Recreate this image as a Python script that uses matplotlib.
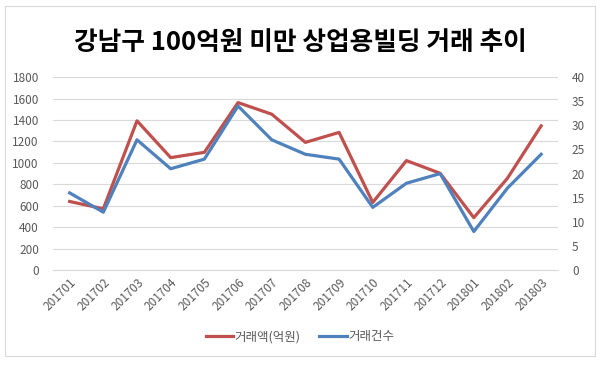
import matplotlib.pyplot as plt
from matplotlib.patches import Rectangle

plt.rcParams['font.family'] = ['Noto Sans CJK KR', 'DejaVu Sans']

months = ["201701", "201702", "201703", "201704", "201705", "201706", "201707",
          "201708", "201709", "201710", "201711", "201712", "201801", "201802",
          "201803"]
amount = [640, 572, 1392, 1049, 1098, 1562, 1454, 1191, 1284, 631, 1021, 903,
          489, 857, 1345]
count = [16, 12, 27, 21, 23, 34, 27, 24, 23, 13, 18, 20, 8, 17, 24]

red = "#C0504D"
blue = "#4F81BD"
tick_color = "#595959"

fig = plt.figure(figsize=(6, 3.67), dpi=100)
fig.patches.append(Rectangle((0.008, 0.03), 0.984, 0.955, transform=fig.transFigure,
                             fill=False, edgecolor="#D9D9D9", linewidth=0.8))
ax = fig.add_axes([0.088, 0.264, 0.842, 0.526])
ax2 = ax.twinx()

x = range(len(months))
l1, = ax.plot(x, amount, color=red, linewidth=2.3, label="거래액(억원)")
l2, = ax2.plot(x, count, color=blue, linewidth=2.3, label="거래건수")

ax.set_xlim(-0.5, len(months) - 0.5)
ax.set_ylim(0, 1800)
ax.set_yticks(range(0, 1801, 200))
ax2.set_ylim(0, 40)
ax2.set_yticks(range(0, 41, 5))
ax.set_xticks(list(x))
ax.set_xticklabels(months, rotation=45, ha="right", rotation_mode="anchor")

ax.grid(axis="y", color="#D9D9D9", linewidth=0.8)
ax.set_axisbelow(True)
for a in (ax, ax2):
    for s in a.spines.values():
        s.set_visible(False)
    a.tick_params(length=0, labelsize=8.5, colors=tick_color)
ax.spines["bottom"].set_visible(True)
ax.spines["bottom"].set_color("#D9D9D9")
ax.tick_params(axis="y", pad=10)
ax2.tick_params(axis="y", pad=10)
ax.tick_params(axis="x", pad=4)

fig.text(0.5, 0.885, "강남구 100억원 미만 상업용빌딩 거래 추이", ha="center", va="center",
         fontsize=18.5, fontweight="bold")
fig.legend([l1, l2], ["거래액(억원)", "거래건수"], loc="center", bbox_to_anchor=(0.5, 0.083),
           ncol=2, frameon=False, fontsize=9, handlelength=2.2, handletextpad=0.1,
           columnspacing=1.5, labelcolor=tick_color)

fig.savefig("out.png", dpi=100)
